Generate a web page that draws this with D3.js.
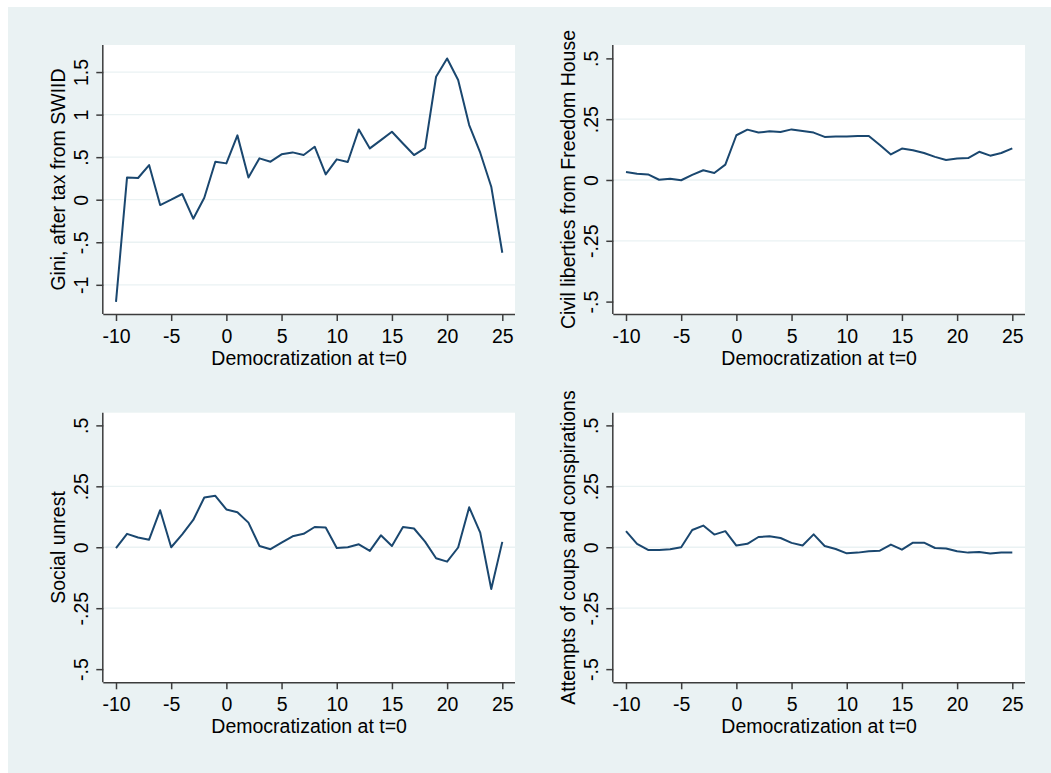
<!DOCTYPE html>
<html>
<head>
<meta charset="utf-8">
<script src="https://cdn.jsdelivr.net/npm/d3@7/dist/d3.min.js"></script>
<style>
  body { margin: 0; background: #fff; }
  text { font-family: "Liberation Sans", Arial, sans-serif; fill: #000; }
</style>
</head>
<body>
<svg id="svg1" width="1051" height="773"></svg>
<script>

// event time, years relative to democratization
var years = [-10,-9,-8,-7,-6,-5,-4,-3,-2,-1,0,1,2,3,4,5,6,7,8,9,10,11,12,13,14,15,16,17,18,19,20,21,22,23,24,25];
var xTicks = [-10,-5,0,5,10,15,20,25];

var gini = [-1.20,0.262,0.255,0.407,-0.063,0.0,0.067,-0.223,0.024,0.447,0.427,0.756,0.262,0.486,0.447,0.533,0.556,0.525,0.623,0.298,0.474,0.443,0.826,0.603,0.70,0.799,0.66,0.525,0.607,1.445,1.66,1.406,0.877,0.552,0.153,-0.623];
var civil = [0.033,0.026,0.023,0.001,0.005,-0.001,0.021,0.040,0.029,0.063,0.184,0.207,0.195,0.200,0.197,0.208,0.201,0.195,0.177,0.179,0.179,0.181,0.181,0.144,0.105,0.129,0.122,0.111,0.095,0.082,0.088,0.090,0.116,0.100,0.111,0.130];
var unrest = [-0.004,0.055,0.040,0.031,0.152,0.0,0.053,0.112,0.204,0.211,0.155,0.144,0.101,0.005,-0.008,0.019,0.045,0.055,0.083,0.081,-0.003,0.0,0.012,-0.015,0.049,0.005,0.083,0.077,0.023,-0.045,-0.059,-0.001,0.164,0.060,-0.171,0.022];
var coups = [0.066,0.014,-0.011,-0.011,-0.008,0.0,0.071,0.089,0.052,0.066,0.007,0.014,0.042,0.045,0.038,0.018,0.007,0.053,0.005,-0.007,-0.025,-0.022,-0.016,-0.014,0.011,-0.010,0.019,0.019,-0.003,-0.005,-0.016,-0.022,-0.019,-0.026,-0.022,-0.022];

var giniTicks = [-1,-0.5,0,0.5,1,1.5];
var giniLabels = ["-1","-.5","0",".5","1","1.5"];
var smallTicks = [-0.5,-0.25,0,0.25,0.5];
var smallLabels = ["-.5","-.25","0",".25",".5"];

var svg = d3.select("#svg1");

svg.append("rect")
   .attr("x", 8).attr("y", 7)
   .attr("width", 1043).attr("height", 766)
   .style("fill", "#eaf2f3");

var pw = 411.7;
var fs = "19.5px";

function drawPanel(left, top, ph, values, yDomain, ticks, labels, gridTicks, title) {
  var p = svg.append("g").attr("transform", "translate(" + left + "," + top + ")");

  var x = d3.scaleLinear().domain([-10, 25]).range([12.7, 399]);
  var y = d3.scaleLinear().domain(yDomain).range([ph, 0]);

  p.append("rect")
      .attr("width", pw).attr("height", ph)
      .style("fill", "#fff");

  p.selectAll(".grid")
      .data(gridTicks)
    .enter().append("line")
      .attr("x1", 0).attr("x2", pw)
      .attr("y1", function(d) { return y(d); })
      .attr("y2", function(d) { return y(d); })
      .style("stroke", "#eaf2f3")
      .style("stroke-width", 1.3);

  var line = d3.line()
      .x(function(d, i) { return x(years[i]); })
      .y(function(d) { return y(d); });

  p.append("path")
      .datum(values)
      .attr("d", line)
      .style("fill", "none")
      .style("stroke", "#1a476f")
      .style("stroke-width", 2)
      .style("stroke-linejoin", "round");

  var xAxis = d3.axisBottom(x).tickValues(xTicks).tickSize(7).tickSizeOuter(0)
      .tickFormat(function(d) { return String(d); });
  var gx = p.append("g")
      .attr("transform", "translate(0," + ph + ")")
      .call(xAxis);
  gx.select(".domain").attr("d", "M0,0.5H" + pw);
  gx.selectAll("text")
      .attr("y", 29).attr("dy", 0)
      .style("font-size", fs);

  var yAxis = d3.axisLeft(y).tickValues(ticks).tickSize(7).tickSizeOuter(0)
      .tickFormat(function(d, i) { return labels[i]; });
  var gy = p.append("g").call(yAxis);
  gy.select(".domain").attr("d", "M-0.5,0V" + ph);
  gy.selectAll("text")
      .attr("x", 0).attr("dy", 0)
      .attr("text-anchor", "middle")
      .attr("transform", "translate(-15,0) rotate(-90)")
      .style("font-size", fs);

  p.selectAll(".domain, .tick line")
      .style("stroke", "#3c3c3c")
      .style("stroke-width", 1.5);

  p.append("text")
      .attr("x", pw / 2).attr("y", ph + 51)
      .attr("text-anchor", "middle")
      .style("font-size", fs)
      .text("Democratization at t=0");

  p.append("text")
      .attr("transform", "translate(-38," + (ph / 2) + ") rotate(-90)")
      .attr("text-anchor", "middle")
      .style("font-size", fs)
      .text(title);
}

drawPanel(103.3, 45, 269, gini, [-1.343, 1.818], giniTicks, giniLabels, giniTicks,
          "Gini, after tax from SWIID");
drawPanel(613.3, 45, 269, civil, [-0.551, 0.555], smallTicks, smallLabels, [-0.25, 0, 0.25],
          "Civil liberties from Freedom House");
drawPanel(103.3, 412.7, 269.6, unrest, [-0.554, 0.552], smallTicks, smallLabels, [-0.25, 0, 0.25],
          "Social unrest");
drawPanel(613.3, 412.7, 269.6, coups, [-0.554, 0.552], smallTicks, smallLabels, [-0.25, 0, 0.25],
          "Attempts of coups and conspirations");

</script>
</body>
</html>
